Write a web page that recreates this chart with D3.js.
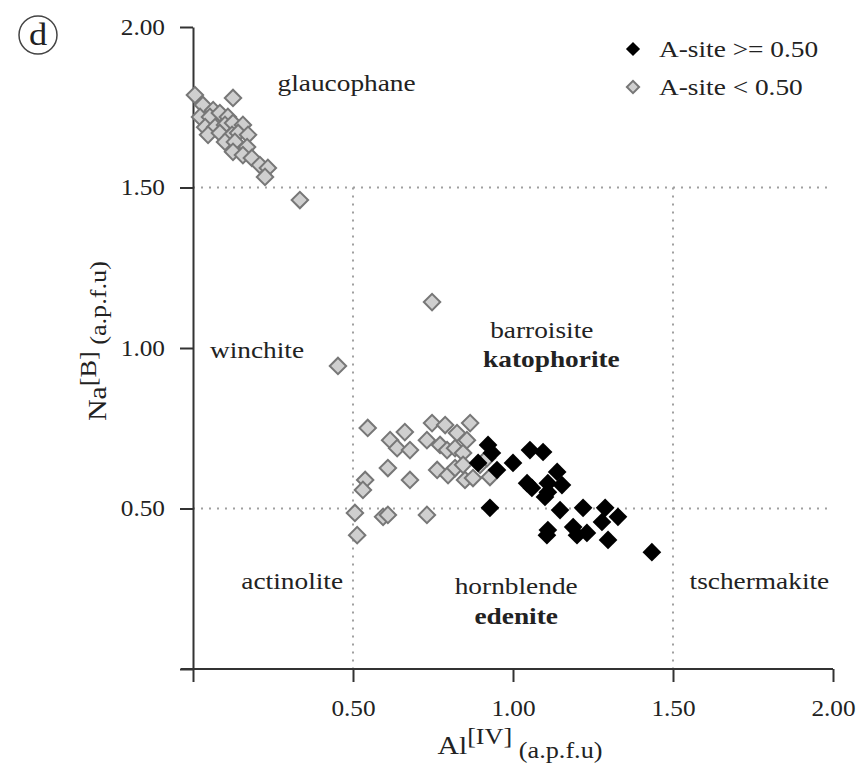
<!DOCTYPE html>
<html><head><meta charset="utf-8">
<script src="https://cdn.jsdelivr.net/npm/d3@7"></script>
<style>body{margin:0;background:#fff}svg{display:block}text{font-family:"Liberation Serif","Times New Roman",serif;fill:#222}</style>
</head><body><svg id="c" width="863" height="765"></svg>
<script>
// Grey series: A-site < 0.50  [AlIV, NaB]
const lowA = [
 [0.006,1.788],[0.031,1.757],[0.063,1.741],[0.125,1.779],[0.022,1.720],[0.053,1.720],[0.084,1.732],
 [0.109,1.720],[0.038,1.688],[0.069,1.688],[0.100,1.695],[0.125,1.701],[0.156,1.695],[0.047,1.664],
 [0.084,1.670],[0.122,1.664],[0.141,1.670],[0.172,1.664],[0.100,1.642],[0.131,1.642],[0.169,1.626],
 [0.125,1.611],[0.156,1.601],[0.184,1.592],[0.209,1.570],[0.234,1.561],[0.225,1.533],[0.334,1.461],
 [0.747,1.143],[0.453,0.944],
 [0.546,0.751],[0.616,0.713],[0.662,0.738],[0.638,0.688],[0.678,0.682],[0.609,0.626],[0.678,0.589],
 [0.538,0.589],[0.531,0.558],[0.506,0.486],[0.594,0.474],[0.609,0.480],[0.731,0.480],[0.513,0.417],
 [0.747,0.766],[0.788,0.760],[0.866,0.766],[0.825,0.735],[0.731,0.713],[0.772,0.698],[0.794,0.682],
 [0.819,0.688],[0.844,0.673],[0.856,0.713],[0.763,0.620],[0.797,0.604],[0.819,0.626],[0.850,0.589],
 [0.875,0.595],[0.928,0.598],[0.897,0.636],[0.844,0.636],[0.919,0.657]
];
// Black series: A-site >= 0.50
const highA = [
 [0.922,0.698],[0.934,0.673],[0.891,0.642],[0.950,0.620],[1.000,0.642],[1.053,0.682],[1.094,0.676],
 [1.138,0.614],[1.044,0.579],[1.059,0.564],[1.109,0.579],[1.153,0.573],[1.109,0.551],[1.100,0.536],
 [0.928,0.502],[1.147,0.495],[1.219,0.502],[1.288,0.502],[1.328,0.474],[1.278,0.458],[1.188,0.442],
 [1.109,0.433],[1.106,0.417],[1.231,0.424],[1.200,0.417],[1.297,0.402],[1.434,0.364]
];
const xTicks = [0, 0.5, 1.0, 1.5, 2.0];
const yTicks = [0, 0.5, 1.0, 1.5, 2.0];
const fieldLabels = [
 {t:"glaucophane", x:0.48, y:1.80},
 {t:"winchite", x:0.20, y:0.97},
 {t:"barroisite", x:1.09, y:1.03},
 {t:"katophorite", x:1.12, y:0.94, bold:true},
 {t:"actinolite", x:0.31, y:0.25},
 {t:"hornblende", x:1.01, y:0.235},
 {t:"edenite", x:1.01, y:0.14, bold:true},
 {t:"tschermakite", x:1.77, y:0.25}
];

const SX = 1.14; // horizontal stretch of the type
const svg = d3.select("#c");
const x = d3.scaleLinear().domain([0,2]).range([193,833]);
const y = d3.scaleLinear().domain([0,2]).range([669,27]);
const fmt = d => d===0 ? "" : d3.format(".2f")(d);

// guide lines
const g = svg.append("g").attr("stroke","#a0a0a0").attr("stroke-width",2).attr("stroke-dasharray","2,6").attr("fill","none");
g.append("line").attr("x1",x(0)).attr("x2",x(2)).attr("y1",y(1.5)).attr("y2",y(1.5));
g.append("line").attr("x1",x(0)).attr("x2",x(2)).attr("y1",y(0.5)).attr("y2",y(0.5));
g.append("line").attr("x1",x(0.5)).attr("x2",x(0.5)).attr("y1",y(1.5)).attr("y2",y(0));
g.append("line").attr("x1",x(1.5)).attr("x2",x(1.5)).attr("y1",y(1.5)).attr("y2",y(0));

// axes
const ax = svg.append("g").attr("transform",`translate(0,${y(0)})`)
  .call(d3.axisBottom(x).tickValues(xTicks).tickFormat(fmt).tickSize(13).tickSizeOuter(0).tickPadding(18));
const ay = svg.append("g").attr("transform",`translate(${x(0)},0)`)
  .call(d3.axisLeft(y).tickValues(yTicks).tickFormat(fmt).tickSize(13).tickSizeOuter(0).tickPadding(15));
[ax,ay].forEach(a=>{
  a.selectAll("path,line").attr("stroke","#333").attr("stroke-width",2);
  a.selectAll(".tick text").style("font-family","Liberation Serif").style("font-size","23px").attr("fill","#333")
   .each(function(){
     const tx=+this.getAttribute("x")||0, ty=+this.getAttribute("y")||0;
     d3.select(this).attr("x",0).attr("y",0).attr("transform",`translate(${tx},${ty}) scale(${SX-0.04},1)`);
   });
});
ax.select(".domain").attr("d",`M${x(0)-12},0H${x(2)}`);

function stext(sel, px, py, size){
  return sel.append("text").attr("transform",`translate(${px},${py}) scale(${SX},1)`).attr("font-size",size);
}

// field labels
fieldLabels.forEach(d=>{
  stext(svg, x(d.x), y(d.y), 24).attr("text-anchor","middle")
    .attr("font-weight",d.bold?"bold":"normal").text(d.t);
});

// points
const sym = (s)=>d3.symbol(d3.symbolSquare).size(s)();
svg.append("g").selectAll("path").data(lowA).join("path")
  .attr("d",sym(135)).attr("transform",d=>`translate(${x(d[0])},${y(d[1])}) rotate(45)`)
  .attr("fill","#cfcfcf").attr("stroke","#777").attr("stroke-width",2);
svg.append("g").selectAll("path").data(highA).join("path")
  .attr("d",sym(175)).attr("transform",d=>`translate(${x(d[0])},${y(d[1])}) rotate(45)`)
  .attr("fill","#000");

// legend
const leg = svg.append("g");
leg.append("path").attr("d",sym(100)).attr("transform","translate(633,49) rotate(45)").attr("fill","#000");
leg.append("path").attr("d",sym(75)).attr("transform","translate(633,87) rotate(45)").attr("fill","#cfcfcf").attr("stroke","#777").attr("stroke-width",2);
stext(leg, 659, 57, 24).text("A-site >= 0.50");
stext(leg, 659, 95, 24).text("A-site < 0.50");

// axis titles
const xt = svg.append("text").attr("transform",`translate(520,754) scale(${SX},1)`).attr("text-anchor","middle").attr("font-size",26);
xt.append("tspan").text("Al");
xt.append("tspan").attr("dy",-10).attr("font-size",23).text("[IV]");
xt.append("tspan").attr("dy",14).attr("font-size",23).text(" (a.p.f.u)");
const yt = svg.append("text").attr("transform",`translate(106,341) rotate(-90) scale(${SX},1)`).attr("text-anchor","middle").attr("font-size",26);
yt.append("tspan").text("Na");
yt.append("tspan").attr("dy",-10).attr("font-size",23).text("[B]");
yt.append("tspan").attr("dy",10).attr("font-size",23).text(" (a.p.f.u)");

// panel label
svg.append("circle").attr("cx",38).attr("cy",35).attr("r",19).attr("fill","none").attr("stroke","#444").attr("stroke-width",1.5);
stext(svg, 38, 45, 32).attr("text-anchor","middle").text("d");
</script></body></html>
